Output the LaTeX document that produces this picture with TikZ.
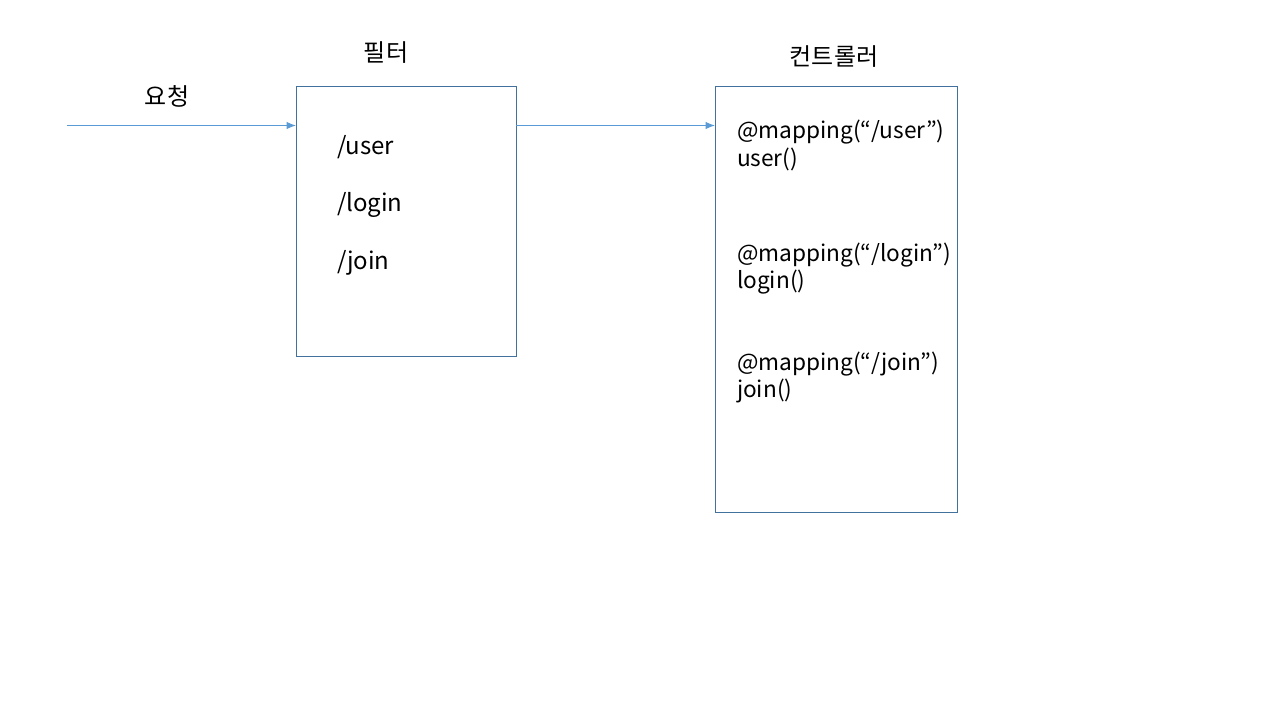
\documentclass[tikz,border=0pt]{standalone}
\usepackage{fontspec}
\setmainfont{Noto Sans CJK KR}
\usetikzlibrary{arrows.meta}
\definecolor{linkblue}{HTML}{5B9BD5}
\definecolor{boxblue}{HTML}{41719C}
\begin{document}
\begin{tikzpicture}[x=0.75pt, y=-0.75pt, font=\fontsize{18}{22}\selectfont,
        every node/.style={inner sep=0pt, outer sep=0pt},
        box/.style={draw=boxblue, line width=0.75pt, anchor=north west},
        item/.style={anchor=base west},
        method/.style={anchor=base west, font=\fontsize{17}{21}\selectfont},
        flow/.style={draw=linkblue, line width=0.75pt, -{Latex[length=7pt, width=5.5pt]}}]
        \useasboundingbox (0, 0) rectangle (1280, 720);
        % boxes
        \node[box, minimum width=220*0.75pt, minimum height=269*0.75pt] (filter) at (296, 87) {};
        \node[box, minimum width=242*0.75pt, minimum height=425*0.75pt] (ctrl) at (715, 87) {};
        % titles
        \node (reqlabel) at (167, 96) {요청};
        \node (filterlabel) at (386, 53) {필터};
        \node (ctrllabel) at (834, 57) {컨트롤러};
        % filter entries
        \node[item] (fuser) at (337, 155) {/user};
        \node[item] (flogin) at (337, 212) {/login};
        \node[item] (fjoin) at (337, 269) {/join};
        % controller entries
        \node[method] (muser) at (737, 139) {@mapping(“/user”)};
        \node[method] (cuser) at (737, 167) {user()};
        \node[method] (mlogin) at (737, 261) {@mapping(“/login”)};
        \node[method] (clogin) at (737, 288) {login()};
        \node[method] (mjoin) at (737, 370) {@mapping(“/join”)};
        \node[method] (cjoin) at (737, 397) {join()};
        % arrows
        \coordinate (req) at (67, 125.5);
        \draw[flow] (req) -- (req -| filter.west);
        \draw[flow] (req -| filter.east) -- (req -| ctrl.west);
\end{tikzpicture}
\end{document}
